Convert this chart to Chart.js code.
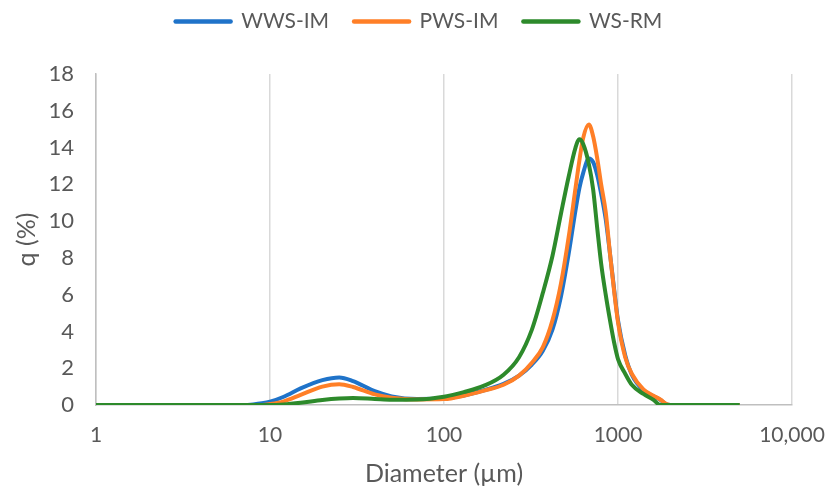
<!DOCTYPE html>
<html><head><meta charset="utf-8">
<script src="https://cdn.jsdelivr.net/npm/chart.js@4"></script>
<style>html,body{margin:0;padding:0;background:#fff}</style>
</head><body>
<canvas id="c" width="827" height="492"></canvas>
<script>
const diameters = [1, 5, 7, 8, 9, 10, 12, 15, 20, 25, 30, 40, 50, 70, 100, 130, 170, 220, 270, 320, 370, 420, 470, 520, 570, 600, 630, 680, 720, 760, 800, 850, 900, 950, 1000, 1100, 1200, 1400, 1600, 1750, 1900, 2000, 5000];
const wwsIm = [0, 0, 0, 0.03, 0.09, 0.18, 0.45, 0.9, 1.35, 1.5, 1.3, 0.75, 0.47, 0.33, 0.35, 0.52, 0.8, 1.15, 1.6, 2.2, 2.95, 4.1, 5.9, 8.2, 10.6, 11.8, 12.6, 13.4, 13.2, 12.5, 11.5, 10.1, 8.2, 6.3, 4.6, 2.7, 1.65, 0.8, 0.48, 0.28, 0.03, 0, 0];
const pwsIm = [0, 0, 0, 0, 0, 0.05, 0.2, 0.55, 1.0, 1.13, 0.98, 0.58, 0.4, 0.3, 0.32, 0.5, 0.78, 1.1, 1.6, 2.3, 3.15, 4.6, 6.6, 9.1, 11.8, 13.3, 14.5, 15.25, 14.6, 13.4, 12.0, 10.5, 8.2, 6.2, 4.5, 2.6, 1.7, 0.85, 0.5, 0.3, 0.05, 0, 0];
const wsRm = [0, 0, 0, 0, 0, 0, 0.03, 0.12, 0.27, 0.35, 0.38, 0.33, 0.29, 0.3, 0.45, 0.7, 1.05, 1.65, 2.6, 4.1, 6.1, 8.1, 10.4, 12.4, 14.0, 14.45, 14.2, 13.1, 11.7, 9.6, 7.7, 6.0, 4.6, 3.4, 2.5, 1.7, 1.1, 0.6, 0.28, 0, 0, 0, 0];
const seriesLabels = ['WWS-IM', 'PWS-IM', 'WS-RM'];
const xTickValues = [1, 10, 100, 1000, 10000];
const xTickLabels = ['1', '10', '100', '1000', '10,000'];
const yMin = 0, yMax = 18, yStep = 2;
const xTitle = 'Diameter (µm)';
const yTitle = 'q (%)';

const colors = ['#1f73c9', '#ff7f27', '#2d8a2b'];
const allSeries = [wwsIm, pwsIm, wsRm];
const textColor = '#595959';
const FONT = 'Lato';

const layoutFix = {
  id: 'layoutFix',
  beforeInit(chart) {
    const lg = chart.legend;
    if (lg) {
      const f = lg.fit;
      lg.fit = function () { f.call(this); this.height = 74; };
    }
  },
  afterLayout(chart) {
    const lg = chart.legend;
    if (lg) {
      lg.top -= 14; lg.bottom -= 14;
      lg.left += 23; lg.right += 23;
    }
  }
};

new Chart(document.getElementById('c'), {
  type: 'line',
  data: {
    datasets: allSeries.map((s, i) => ({
      label: seriesLabels[i],
      data: diameters.map((d, j) => ({ x: d, y: s[j] })),
      borderColor: colors[i],
      backgroundColor: colors[i],
      borderWidth: 4,
      pointRadius: 0,
      pointHoverRadius: 0,
      fill: false,
      cubicInterpolationMode: 'monotone',
      order: 2 - i
    }))
  },
  options: {
    responsive: false,
    animation: false,
    devicePixelRatio: 1,
    layout: { padding: { left: 0, right: 35, top: 0, bottom: 0 } },
    plugins: {
      tooltip: { enabled: false },
      legend: {
        position: 'top',
        labels: {
          font: { family: FONT, size: 21 },
          color: textColor,
          usePointStyle: true,
          pointStyleWidth: 55,
          boxHeight: 21,
          padding: 25,
          generateLabels(chart) {
            return chart.data.datasets.map((ds, i) => ({
              text: ds.label, fillStyle: ds.borderColor, strokeStyle: ds.borderColor,
              lineWidth: 4.5, lineCap: 'round', pointStyle: 'line', hidden: false,
              datasetIndex: i, fontColor: textColor
            }));
          }
        }
      }
    },
    scales: {
      x: {
        type: 'logarithmic',
        min: 1, max: 10000,
        afterBuildTicks(scale) { scale.ticks = xTickValues.map(v => ({ value: v, major: true })); },
        afterFit(scale) { scale.height = 87; scale.paddingLeft = 0; scale.paddingRight = 0; },
        ticks: {
          autoSkip: false, maxRotation: 0, padding: 18,
          font: { family: FONT, size: 21 }, color: textColor,
          callback(v) { const k = xTickValues.indexOf(v); return k >= 0 ? xTickLabels[k] : ''; }
        },
        grid: { color: '#d9d9d9', lineWidth: 1.5, drawTicks: false },
        border: { display: true, color: '#bfbfbf', width: 1.5 },
        title: { display: true, text: xTitle, color: textColor, font: { family: FONT, size: 25 }, padding: { top: 0, bottom: 3 } }
      },
      y: {
        min: yMin, max: yMax,
        afterFit(scale) { scale.width = 96; scale.paddingTop = 0; scale.paddingBottom = 0; },
        ticks: { stepSize: yStep, padding: 22, font: { family: FONT, size: 22 }, color: textColor },
        grid: { display: false, drawTicks: false },
        border: { display: true, color: '#bfbfbf', width: 1.5 },
        title: { display: true, text: yTitle, color: textColor, font: { family: FONT, size: 25 }, padding: { top: 12, bottom: 0 } }
      }
    }
  },
  plugins: [layoutFix]
});
</script>
</body></html>
